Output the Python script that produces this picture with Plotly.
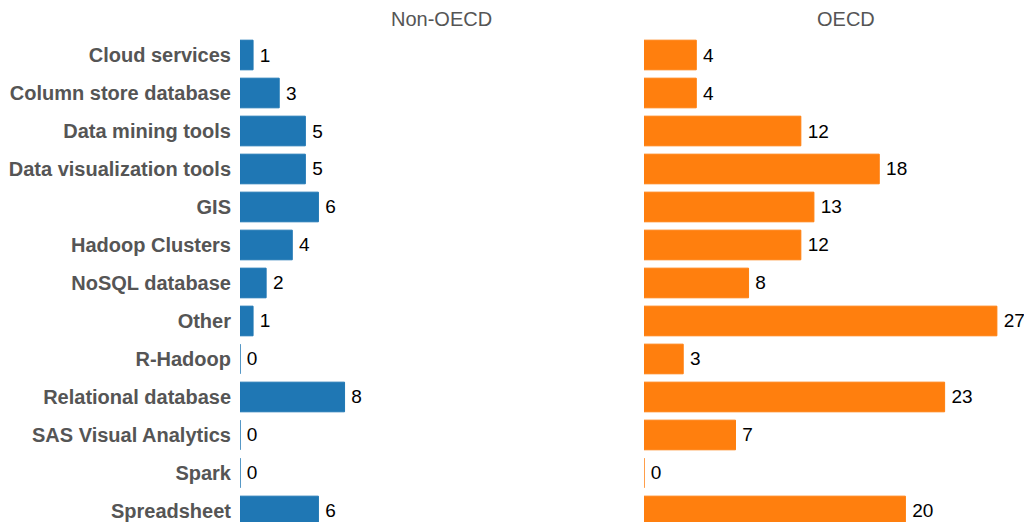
"""Tool usage by group: Non-OECD vs OECD, as two side-by-side bar panels."""

import plotly.graph_objects as go

categories = [
    "Cloud services",
    "Column store database",
    "Data mining tools",
    "Data visualization tools",
    "GIS",
    "Hadoop Clusters",
    "NoSQL database",
    "Other",
    "R-Hadoop",
    "Relational database",
    "SAS Visual Analytics",
    "Spark",
    "Spreadsheet",
]
non_oecd = [1, 3, 5, 5, 6, 4, 2, 1, 0, 8, 0, 0, 6]
oecd = [4, 4, 12, 18, 13, 12, 8, 27, 3, 23, 7, 0, 20]

panel_titles = ["Non-OECD", "OECD"]
colors = ["#1f77b4", "#ff7f0e"]

FONT = "Liberation Sans, Arial, sans-serif"

fig = go.Figure()

for i, (values, color) in enumerate(zip([non_oecd, oecd], colors)):
    suffix = "" if i == 0 else "2"
    fig.add_trace(
        go.Bar(
            x=values,
            y=categories,
            orientation="h",
            name=panel_titles[i],
            marker=dict(color=color, line=dict(color=color, width=1)),
            texttemplate="\u2009%{x}",
            textposition="outside",
            textfont=dict(family=FONT, size=19, color="#000000"),
            cliponaxis=False,
            xaxis="x" + suffix,
            yaxis="y" + suffix,
            showlegend=False,
        )
    )

# Page body adds an 8px offset, so figure coords = screen coords - 8
px_per_unit = 13.07
plot_left = 232
fig_width = 1024
fig_height = 514
top = 28
plot_width = fig_width - plot_left
plot_height = fig_height - top
left_px = 403
right_start_px = 404
right_px = plot_width - right_start_px

fig.update_layout(
    width=fig_width,
    height=fig_height,
    margin=dict(l=plot_left, r=0, t=top, b=0),
    plot_bgcolor="white",
    paper_bgcolor="white",
    bargap=0.22,
    xaxis=dict(
        domain=[0, left_px / plot_width],
        range=[0, left_px / px_per_unit],
        visible=False,
    ),
    xaxis2=dict(
        domain=[right_start_px / plot_width, 1],
        range=[0, right_px / px_per_unit],
        visible=False,
    ),
    yaxis=dict(
        range=[12.29, -0.5],
        showgrid=False,
        zeroline=False,
        showline=False,
        ticks="",
        ticklabelstandoff=8,
        tickfont=dict(family=FONT, size=20, color="#555555", weight="bold"),
    ),
    yaxis2=dict(
        anchor="x2",
        matches="y",
        showgrid=False,
        zeroline=False,
        showticklabels=False,
        ticks="",
    ),
)

# Panel titles (screen centres 441.5 and 845.5, text middle at y=19)
title_centers = [433.5, 837.5]
for title, cx in zip(panel_titles, title_centers):
    fig.add_annotation(
        text=title,
        x=(cx - plot_left) / plot_width,
        xref="paper",
        y=1 + (top - 11) / plot_height,
        yref="paper",
        xanchor="center",
        yanchor="middle",
        showarrow=False,
        font=dict(family=FONT, size=20, color="#555555"),
    )

fig.write_html("out.html")
